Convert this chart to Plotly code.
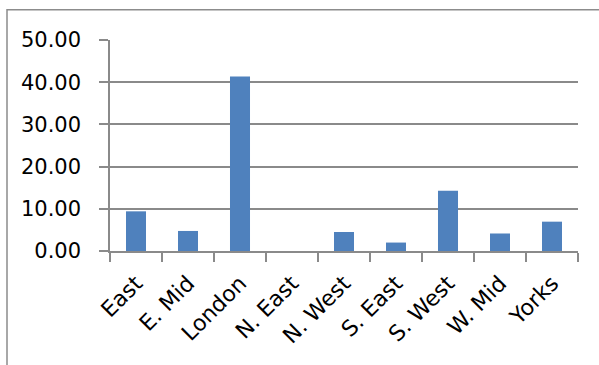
import plotly.graph_objects as go

regions = ["East", "E. Mid", "London", "N. East", "N. West", "S. East", "S. West", "W. Mid", "Yorks"]
values = [9.4, 4.75, 41.35, 0.0, 4.5, 2.0, 14.3, 4.15, 6.95]
y_ticks = [0, 10, 20, 30, 40, 50]
y_tick_labels = ["0.00", "10.00", "20.00", "30.00", "40.00", "50.00"]

W, H = 599, 365
L, R, T, B = 110, 21, 39.5, 114.3
pw, ph = W - L - R, H - T - B

fig = go.Figure(go.Bar(
    x=regions, y=values,
    marker=dict(color="#4F81BD", line=dict(width=0)),
    width=0.385,
))

grid = "#8a8a8a"
fig.update_layout(
    width=W, height=H,
    margin=dict(l=L, r=R, t=T, b=B, pad=0),
    paper_bgcolor="white", plot_bgcolor="white",
    font=dict(family="DejaVu Sans", size=21, color="black"),
    showlegend=False,
)
fig.update_yaxes(
    range=[0, 50], tickvals=y_ticks, ticktext=y_tick_labels,
    showgrid=True, gridcolor=grid, gridwidth=1.5,
    showline=True, linecolor=grid, linewidth=1.5,
    ticks="outside", ticklen=9, tickcolor=grid, tickwidth=1.5,
    ticklabelstandoff=14,
    zeroline=False, fixedrange=True,
)
fig.update_xaxes(
    tickangle=-45, tickfont=dict(size=22),
    showline=True, linecolor=grid, linewidth=1.5,
    ticks="outside", ticklen=9, tickcolor=grid, tickwidth=1.5,
    tickson="boundaries", ticklabelstandoff=9,
    showgrid=False, zeroline=False, fixedrange=True,
)
# outer chart frame
x0 = (7 - L) / pw
y1 = (H - B - 9.3) / ph
fig.add_shape(type="rect", xref="paper", yref="paper",
              x0=x0, x1=1.3, y0=-1.0, y1=y1,
              line=dict(color="#8c8c8c", width=1.5))

fig.write_html("out.html", config={"displayModeBar": False},
               post_script="document.body.style.margin='0';")
